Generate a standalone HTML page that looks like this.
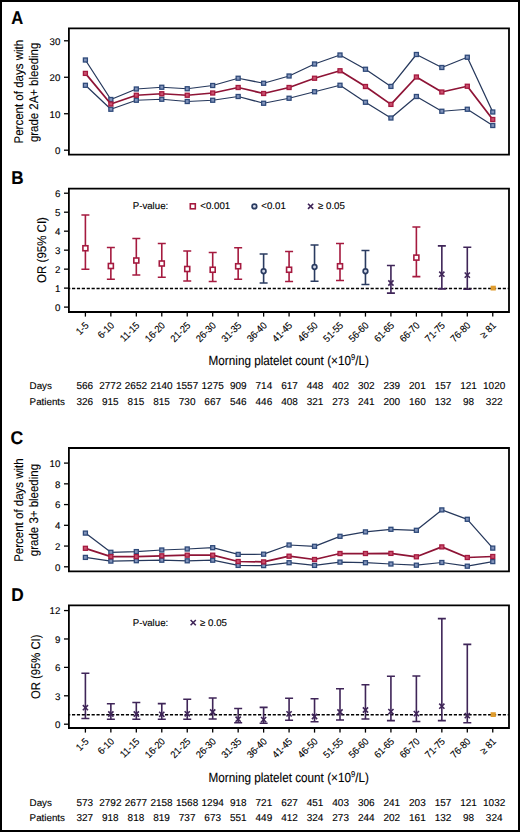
<!DOCTYPE html><html><head><meta charset="utf-8"><style>html,body{margin:0;padding:0;background:#fff;}body{width:520px;height:832px;overflow:hidden;}svg{display:block;}text{font-family:"Liberation Sans", sans-serif;fill:#000;stroke:#000;stroke-width:0.12px;text-rendering:geometricPrecision;}</style></head><body>
<svg width="520" height="832" viewBox="0 0 520 832">
<rect x="1" y="1" width="518" height="830" fill="#fff" stroke="#000" stroke-width="2"/>
<text transform="translate(11.2,23.9) scale(0.9,1)" font-size="18.4" font-weight="bold">A</text>
<text transform="translate(22.8,91.7) rotate(-90)" text-anchor="middle" font-size="12.6" textLength="103.6" lengthAdjust="spacingAndGlyphs">Percent of days with</text>
<text transform="translate(38.1,92.4) rotate(-90)" text-anchor="middle" font-size="12.6" textLength="99.4" lengthAdjust="spacingAndGlyphs">grade 2A+ bleeding</text>
<line x1="64" y1="150.2" x2="68.9" y2="150.2" stroke="#000" stroke-width="1.3"/>
<text x="60.4" y="154" text-anchor="end" font-size="9.7">0</text>
<line x1="64" y1="113.73" x2="68.9" y2="113.73" stroke="#000" stroke-width="1.3"/>
<text x="60.4" y="117.53" text-anchor="end" font-size="9.7">10</text>
<line x1="64" y1="77.26" x2="68.9" y2="77.26" stroke="#000" stroke-width="1.3"/>
<text x="60.4" y="81.06" text-anchor="end" font-size="9.7">20</text>
<line x1="64" y1="40.79" x2="68.9" y2="40.79" stroke="#000" stroke-width="1.3"/>
<text x="60.4" y="44.59" text-anchor="end" font-size="9.7">30</text>
<polyline points="85.4,60 110.86,99.5 136.32,89 161.78,87.25 187.24,88.75 212.7,85.5 238.16,78.25 263.62,83.25 289.08,76 314.54,64 340,55 365.46,69.25 390.92,86.4 416.38,54.5 441.84,67.5 467.3,57.25 492.76,112" fill="none" stroke="#26385c" stroke-width="1.25" stroke-linejoin="round"/>
<rect x="83.4" y="58" width="4" height="4" fill="#8294bb" stroke="#2f4a7a" stroke-width="1.3"/>
<rect x="108.86" y="97.5" width="4" height="4" fill="#8294bb" stroke="#2f4a7a" stroke-width="1.3"/>
<rect x="134.32" y="87" width="4" height="4" fill="#8294bb" stroke="#2f4a7a" stroke-width="1.3"/>
<rect x="159.78" y="85.25" width="4" height="4" fill="#8294bb" stroke="#2f4a7a" stroke-width="1.3"/>
<rect x="185.24" y="86.75" width="4" height="4" fill="#8294bb" stroke="#2f4a7a" stroke-width="1.3"/>
<rect x="210.7" y="83.5" width="4" height="4" fill="#8294bb" stroke="#2f4a7a" stroke-width="1.3"/>
<rect x="236.16" y="76.25" width="4" height="4" fill="#8294bb" stroke="#2f4a7a" stroke-width="1.3"/>
<rect x="261.62" y="81.25" width="4" height="4" fill="#8294bb" stroke="#2f4a7a" stroke-width="1.3"/>
<rect x="287.08" y="74" width="4" height="4" fill="#8294bb" stroke="#2f4a7a" stroke-width="1.3"/>
<rect x="312.54" y="62" width="4" height="4" fill="#8294bb" stroke="#2f4a7a" stroke-width="1.3"/>
<rect x="338" y="53" width="4" height="4" fill="#8294bb" stroke="#2f4a7a" stroke-width="1.3"/>
<rect x="363.46" y="67.25" width="4" height="4" fill="#8294bb" stroke="#2f4a7a" stroke-width="1.3"/>
<rect x="388.92" y="84.4" width="4" height="4" fill="#8294bb" stroke="#2f4a7a" stroke-width="1.3"/>
<rect x="414.38" y="52.5" width="4" height="4" fill="#8294bb" stroke="#2f4a7a" stroke-width="1.3"/>
<rect x="439.84" y="65.5" width="4" height="4" fill="#8294bb" stroke="#2f4a7a" stroke-width="1.3"/>
<rect x="465.3" y="55.25" width="4" height="4" fill="#8294bb" stroke="#2f4a7a" stroke-width="1.3"/>
<rect x="490.76" y="110" width="4" height="4" fill="#8294bb" stroke="#2f4a7a" stroke-width="1.3"/>
<polyline points="85.4,85.3 110.86,109.25 136.32,100.25 161.78,99.25 187.24,101.5 212.7,100.25 238.16,96.5 263.62,103.25 289.08,98.25 314.54,91.75 340,85.25 365.46,102.25 390.92,118 416.38,96.5 441.84,111.25 467.3,109.25 492.76,125.5" fill="none" stroke="#26385c" stroke-width="1.25" stroke-linejoin="round"/>
<rect x="83.4" y="83.3" width="4" height="4" fill="#8294bb" stroke="#2f4a7a" stroke-width="1.3"/>
<rect x="108.86" y="107.25" width="4" height="4" fill="#8294bb" stroke="#2f4a7a" stroke-width="1.3"/>
<rect x="134.32" y="98.25" width="4" height="4" fill="#8294bb" stroke="#2f4a7a" stroke-width="1.3"/>
<rect x="159.78" y="97.25" width="4" height="4" fill="#8294bb" stroke="#2f4a7a" stroke-width="1.3"/>
<rect x="185.24" y="99.5" width="4" height="4" fill="#8294bb" stroke="#2f4a7a" stroke-width="1.3"/>
<rect x="210.7" y="98.25" width="4" height="4" fill="#8294bb" stroke="#2f4a7a" stroke-width="1.3"/>
<rect x="236.16" y="94.5" width="4" height="4" fill="#8294bb" stroke="#2f4a7a" stroke-width="1.3"/>
<rect x="261.62" y="101.25" width="4" height="4" fill="#8294bb" stroke="#2f4a7a" stroke-width="1.3"/>
<rect x="287.08" y="96.25" width="4" height="4" fill="#8294bb" stroke="#2f4a7a" stroke-width="1.3"/>
<rect x="312.54" y="89.75" width="4" height="4" fill="#8294bb" stroke="#2f4a7a" stroke-width="1.3"/>
<rect x="338" y="83.25" width="4" height="4" fill="#8294bb" stroke="#2f4a7a" stroke-width="1.3"/>
<rect x="363.46" y="100.25" width="4" height="4" fill="#8294bb" stroke="#2f4a7a" stroke-width="1.3"/>
<rect x="388.92" y="116" width="4" height="4" fill="#8294bb" stroke="#2f4a7a" stroke-width="1.3"/>
<rect x="414.38" y="94.5" width="4" height="4" fill="#8294bb" stroke="#2f4a7a" stroke-width="1.3"/>
<rect x="439.84" y="109.25" width="4" height="4" fill="#8294bb" stroke="#2f4a7a" stroke-width="1.3"/>
<rect x="465.3" y="107.25" width="4" height="4" fill="#8294bb" stroke="#2f4a7a" stroke-width="1.3"/>
<rect x="490.76" y="123.5" width="4" height="4" fill="#8294bb" stroke="#2f4a7a" stroke-width="1.3"/>
<polyline points="85.4,73.4 110.86,104 136.32,95.25 161.78,93.75 187.24,95.25 212.7,93 238.16,87.5 263.62,93.5 289.08,87.5 314.54,78.25 340,70.75 365.46,86.5 390.92,104.4 416.38,77 441.84,92 467.3,86.25 492.76,119.5" fill="none" stroke="#8e1436" stroke-width="1.75" stroke-linejoin="round"/>
<rect x="83.4" y="71.4" width="4" height="4" fill="#c9506e" stroke="#a51a3f" stroke-width="1.3"/>
<rect x="108.86" y="102" width="4" height="4" fill="#c9506e" stroke="#a51a3f" stroke-width="1.3"/>
<rect x="134.32" y="93.25" width="4" height="4" fill="#c9506e" stroke="#a51a3f" stroke-width="1.3"/>
<rect x="159.78" y="91.75" width="4" height="4" fill="#c9506e" stroke="#a51a3f" stroke-width="1.3"/>
<rect x="185.24" y="93.25" width="4" height="4" fill="#c9506e" stroke="#a51a3f" stroke-width="1.3"/>
<rect x="210.7" y="91" width="4" height="4" fill="#c9506e" stroke="#a51a3f" stroke-width="1.3"/>
<rect x="236.16" y="85.5" width="4" height="4" fill="#c9506e" stroke="#a51a3f" stroke-width="1.3"/>
<rect x="261.62" y="91.5" width="4" height="4" fill="#c9506e" stroke="#a51a3f" stroke-width="1.3"/>
<rect x="287.08" y="85.5" width="4" height="4" fill="#c9506e" stroke="#a51a3f" stroke-width="1.3"/>
<rect x="312.54" y="76.25" width="4" height="4" fill="#c9506e" stroke="#a51a3f" stroke-width="1.3"/>
<rect x="338" y="68.75" width="4" height="4" fill="#c9506e" stroke="#a51a3f" stroke-width="1.3"/>
<rect x="363.46" y="84.5" width="4" height="4" fill="#c9506e" stroke="#a51a3f" stroke-width="1.3"/>
<rect x="388.92" y="102.4" width="4" height="4" fill="#c9506e" stroke="#a51a3f" stroke-width="1.3"/>
<rect x="414.38" y="75" width="4" height="4" fill="#c9506e" stroke="#a51a3f" stroke-width="1.3"/>
<rect x="439.84" y="90" width="4" height="4" fill="#c9506e" stroke="#a51a3f" stroke-width="1.3"/>
<rect x="465.3" y="84.25" width="4" height="4" fill="#c9506e" stroke="#a51a3f" stroke-width="1.3"/>
<rect x="490.76" y="117.5" width="4" height="4" fill="#c9506e" stroke="#a51a3f" stroke-width="1.3"/>
<path d="M68.9 28.3H509V154.7H68.9Z" fill="none" stroke="#000" stroke-width="1.8" stroke-linejoin="miter"/>
<text transform="translate(11.3,184.1) scale(0.93,1)" font-size="18.4" font-weight="bold">B</text>
<text transform="translate(45.9,250) rotate(-90)" text-anchor="middle" font-size="12.6" textLength="65.8" lengthAdjust="spacingAndGlyphs">OR (95% CI)</text>
<line x1="64" y1="307.1" x2="68.9" y2="307.1" stroke="#000" stroke-width="1.3"/>
<text x="60.4" y="310.9" text-anchor="end" font-size="9.7">0</text>
<line x1="64" y1="288.12" x2="68.9" y2="288.12" stroke="#000" stroke-width="1.3"/>
<text x="60.4" y="291.92" text-anchor="end" font-size="9.7">1</text>
<line x1="64" y1="269.14" x2="68.9" y2="269.14" stroke="#000" stroke-width="1.3"/>
<text x="60.4" y="272.94" text-anchor="end" font-size="9.7">2</text>
<line x1="64" y1="250.16" x2="68.9" y2="250.16" stroke="#000" stroke-width="1.3"/>
<text x="60.4" y="253.96" text-anchor="end" font-size="9.7">3</text>
<line x1="64" y1="231.18" x2="68.9" y2="231.18" stroke="#000" stroke-width="1.3"/>
<text x="60.4" y="234.98" text-anchor="end" font-size="9.7">4</text>
<line x1="64" y1="212.2" x2="68.9" y2="212.2" stroke="#000" stroke-width="1.3"/>
<text x="60.4" y="216" text-anchor="end" font-size="9.7">5</text>
<line x1="64" y1="193.22" x2="68.9" y2="193.22" stroke="#000" stroke-width="1.3"/>
<text x="60.4" y="197.02" text-anchor="end" font-size="9.7">6</text>
<line x1="68.0" y1="288.52" x2="509" y2="288.52" stroke="#000" stroke-width="1.6" stroke-dasharray="3.2 1.695" stroke-dashoffset="0.9"/>
<path d="M85.4 215V269.25M81.4 215H89.4M81.4 269.25H89.4" stroke="#a51a3f" stroke-width="1.6" fill="none"/>
<rect x="82.9" y="245.75" width="5" height="5" fill="#fff" stroke="#a51a3f" stroke-width="1.6"/>
<path d="M110.86 247.5V279.25M106.86 247.5H114.86M106.86 279.25H114.86" stroke="#a51a3f" stroke-width="1.6" fill="none"/>
<rect x="108.36" y="263.5" width="5" height="5" fill="#fff" stroke="#a51a3f" stroke-width="1.6"/>
<path d="M136.32 238.5V275M132.32 238.5H140.32M132.32 275H140.32" stroke="#a51a3f" stroke-width="1.6" fill="none"/>
<rect x="133.82" y="258" width="5" height="5" fill="#fff" stroke="#a51a3f" stroke-width="1.6"/>
<path d="M161.78 243.5V277.25M157.78 243.5H165.78M157.78 277.25H165.78" stroke="#a51a3f" stroke-width="1.6" fill="none"/>
<rect x="159.28" y="261" width="5" height="5" fill="#fff" stroke="#a51a3f" stroke-width="1.6"/>
<path d="M187.24 251V281M183.24 251H191.24M183.24 281H191.24" stroke="#a51a3f" stroke-width="1.6" fill="none"/>
<rect x="184.74" y="266.5" width="5" height="5" fill="#fff" stroke="#a51a3f" stroke-width="1.6"/>
<path d="M212.7 252.5V281.5M208.7 252.5H216.7M208.7 281.5H216.7" stroke="#a51a3f" stroke-width="1.6" fill="none"/>
<rect x="210.2" y="267.25" width="5" height="5" fill="#fff" stroke="#a51a3f" stroke-width="1.6"/>
<path d="M238.16 247.75V279.25M234.16 247.75H242.16M234.16 279.25H242.16" stroke="#a51a3f" stroke-width="1.6" fill="none"/>
<rect x="235.66" y="263.75" width="5" height="5" fill="#fff" stroke="#a51a3f" stroke-width="1.6"/>
<path d="M263.62 254V283M259.62 254H267.62M259.62 283H267.62" stroke="#2a3b60" stroke-width="1.6" fill="none"/>
<circle cx="263.62" cy="271.25" r="2.3" fill="#d4daea" stroke="#2a3b60" stroke-width="1.7"/>
<path d="M289.08 251.5V281.5M285.08 251.5H293.08M285.08 281.5H293.08" stroke="#a51a3f" stroke-width="1.6" fill="none"/>
<rect x="286.58" y="267.25" width="5" height="5" fill="#fff" stroke="#a51a3f" stroke-width="1.6"/>
<path d="M314.54 245V281.25M310.54 245H318.54M310.54 281.25H318.54" stroke="#2a3b60" stroke-width="1.6" fill="none"/>
<circle cx="314.54" cy="267" r="2.3" fill="#d4daea" stroke="#2a3b60" stroke-width="1.7"/>
<path d="M340 243.5V280.5M336 243.5H344M336 280.5H344" stroke="#a51a3f" stroke-width="1.6" fill="none"/>
<rect x="337.5" y="263.75" width="5" height="5" fill="#fff" stroke="#a51a3f" stroke-width="1.6"/>
<path d="M365.46 250.5V284.5M361.46 250.5H369.46M361.46 284.5H369.46" stroke="#2a3b60" stroke-width="1.6" fill="none"/>
<circle cx="365.46" cy="271.25" r="2.3" fill="#d4daea" stroke="#2a3b60" stroke-width="1.7"/>
<path d="M390.92 265.5V293.1M386.92 265.5H394.92M386.92 293.1H394.92" stroke="#3f2558" stroke-width="1.6" fill="none"/>
<path d="M388.32 280.4L393.52 285.6M388.32 285.6L393.52 280.4" stroke="#3f2558" stroke-width="1.6" fill="none"/>
<path d="M416.38 227V276.6M412.38 227H420.38M412.38 276.6H420.38" stroke="#a51a3f" stroke-width="1.6" fill="none"/>
<rect x="413.88" y="255.1" width="5" height="5" fill="#fff" stroke="#a51a3f" stroke-width="1.6"/>
<path d="M441.84 245.9V288.9M437.84 245.9H445.84M437.84 288.9H445.84" stroke="#3f2558" stroke-width="1.6" fill="none"/>
<path d="M439.24 271.6L444.44 276.8M439.24 276.8L444.44 271.6" stroke="#3f2558" stroke-width="1.6" fill="none"/>
<path d="M467.3 247.3V289.2M463.3 247.3H471.3M463.3 289.2H471.3" stroke="#3f2558" stroke-width="1.6" fill="none"/>
<path d="M464.7 272.5L469.9 277.7M464.7 277.7L469.9 272.5" stroke="#3f2558" stroke-width="1.6" fill="none"/>
<rect x="490.61" y="285.7" width="5.2" height="4.8" fill="#df9c2e"/>
<text x="132.7" y="209" font-size="9.7">P-value:</text>
<rect x="190.3" y="203.8" width="5" height="5" fill="#fff" stroke="#a51a3f" stroke-width="1.6"/>
<text x="200.3" y="209" font-size="9.7">&lt;0.001</text>
<circle cx="254.4" cy="206.4" r="2.3" fill="#d4daea" stroke="#2a3b60" stroke-width="1.7"/>
<text x="261.3" y="209" font-size="9.7">&lt;0.01</text>
<path d="M308 203.7L313.2 208.9M308 208.9L313.2 203.7" stroke="#3f2558" stroke-width="1.6" fill="none"/>
<text x="318" y="209" font-size="9.7">≥ 0.05</text>
<path d="M68.9 188.6H509V312H68.9Z" fill="none" stroke="#000" stroke-width="1.8" stroke-linejoin="miter"/>
<line x1="85.4" y1="312" x2="85.4" y2="316.6" stroke="#000" stroke-width="1.3"/>
<line x1="110.86" y1="312" x2="110.86" y2="316.6" stroke="#000" stroke-width="1.3"/>
<line x1="136.32" y1="312" x2="136.32" y2="316.6" stroke="#000" stroke-width="1.3"/>
<line x1="161.78" y1="312" x2="161.78" y2="316.6" stroke="#000" stroke-width="1.3"/>
<line x1="187.24" y1="312" x2="187.24" y2="316.6" stroke="#000" stroke-width="1.3"/>
<line x1="212.7" y1="312" x2="212.7" y2="316.6" stroke="#000" stroke-width="1.3"/>
<line x1="238.16" y1="312" x2="238.16" y2="316.6" stroke="#000" stroke-width="1.3"/>
<line x1="263.62" y1="312" x2="263.62" y2="316.6" stroke="#000" stroke-width="1.3"/>
<line x1="289.08" y1="312" x2="289.08" y2="316.6" stroke="#000" stroke-width="1.3"/>
<line x1="314.54" y1="312" x2="314.54" y2="316.6" stroke="#000" stroke-width="1.3"/>
<line x1="340" y1="312" x2="340" y2="316.6" stroke="#000" stroke-width="1.3"/>
<line x1="365.46" y1="312" x2="365.46" y2="316.6" stroke="#000" stroke-width="1.3"/>
<line x1="390.92" y1="312" x2="390.92" y2="316.6" stroke="#000" stroke-width="1.3"/>
<line x1="416.38" y1="312" x2="416.38" y2="316.6" stroke="#000" stroke-width="1.3"/>
<line x1="441.84" y1="312" x2="441.84" y2="316.6" stroke="#000" stroke-width="1.3"/>
<line x1="467.3" y1="312" x2="467.3" y2="316.6" stroke="#000" stroke-width="1.3"/>
<line x1="492.76" y1="312" x2="492.76" y2="316.6" stroke="#000" stroke-width="1.3"/>
<text transform="translate(89.3,326.1) rotate(-45) scale(0.92,1)" text-anchor="end" font-size="10">1-5</text>
<text transform="translate(114.76,326.1) rotate(-45) scale(0.92,1)" text-anchor="end" font-size="10">6-10</text>
<text transform="translate(140.22,326.1) rotate(-45) scale(0.92,1)" text-anchor="end" font-size="10">11-15</text>
<text transform="translate(165.68,326.1) rotate(-45) scale(0.92,1)" text-anchor="end" font-size="10">16-20</text>
<text transform="translate(191.14,326.1) rotate(-45) scale(0.92,1)" text-anchor="end" font-size="10">21-25</text>
<text transform="translate(216.6,326.1) rotate(-45) scale(0.92,1)" text-anchor="end" font-size="10">26-30</text>
<text transform="translate(242.06,326.1) rotate(-45) scale(0.92,1)" text-anchor="end" font-size="10">31-35</text>
<text transform="translate(267.52,326.1) rotate(-45) scale(0.92,1)" text-anchor="end" font-size="10">36-40</text>
<text transform="translate(292.98,326.1) rotate(-45) scale(0.92,1)" text-anchor="end" font-size="10">41-45</text>
<text transform="translate(318.44,326.1) rotate(-45) scale(0.92,1)" text-anchor="end" font-size="10">46-50</text>
<text transform="translate(343.9,326.1) rotate(-45) scale(0.92,1)" text-anchor="end" font-size="10">51-55</text>
<text transform="translate(369.36,326.1) rotate(-45) scale(0.92,1)" text-anchor="end" font-size="10">56-60</text>
<text transform="translate(394.82,326.1) rotate(-45) scale(0.92,1)" text-anchor="end" font-size="10">61-65</text>
<text transform="translate(420.28,326.1) rotate(-45) scale(0.92,1)" text-anchor="end" font-size="10">66-70</text>
<text transform="translate(445.74,326.1) rotate(-45) scale(0.92,1)" text-anchor="end" font-size="10">71-75</text>
<text transform="translate(471.2,326.1) rotate(-45) scale(0.92,1)" text-anchor="end" font-size="10">76-80</text>
<text transform="translate(496.66,326.1) rotate(-45) scale(0.92,1)" text-anchor="end" font-size="10">≥ 81</text>
<text x="208.6" y="364.85" font-size="13.2" textLength="160.2" lengthAdjust="spacingAndGlyphs">Morning platelet count (×10<tspan font-size="8.5" dy="-4.6">9</tspan><tspan dy="4.6">/L)</tspan></text>
<text x="29.6" y="388.8" font-size="9.8">Days</text>
<text x="29.6" y="404.5" font-size="9.8">Patients</text>
<text x="84.75" y="388.8" text-anchor="middle" font-size="10">566</text>
<text x="84.75" y="404.5" text-anchor="middle" font-size="10">326</text>
<text x="110.34" y="388.8" text-anchor="middle" font-size="10">2772</text>
<text x="110.34" y="404.5" text-anchor="middle" font-size="10">915</text>
<text x="135.93" y="388.8" text-anchor="middle" font-size="10">2652</text>
<text x="135.93" y="404.5" text-anchor="middle" font-size="10">815</text>
<text x="161.52" y="388.8" text-anchor="middle" font-size="10">2140</text>
<text x="161.52" y="404.5" text-anchor="middle" font-size="10">815</text>
<text x="187.11" y="388.8" text-anchor="middle" font-size="10">1557</text>
<text x="187.11" y="404.5" text-anchor="middle" font-size="10">730</text>
<text x="212.7" y="388.8" text-anchor="middle" font-size="10">1275</text>
<text x="212.7" y="404.5" text-anchor="middle" font-size="10">667</text>
<text x="238.29" y="388.8" text-anchor="middle" font-size="10">909</text>
<text x="238.29" y="404.5" text-anchor="middle" font-size="10">546</text>
<text x="263.88" y="388.8" text-anchor="middle" font-size="10">714</text>
<text x="263.88" y="404.5" text-anchor="middle" font-size="10">446</text>
<text x="289.47" y="388.8" text-anchor="middle" font-size="10">617</text>
<text x="289.47" y="404.5" text-anchor="middle" font-size="10">408</text>
<text x="315.06" y="388.8" text-anchor="middle" font-size="10">448</text>
<text x="315.06" y="404.5" text-anchor="middle" font-size="10">321</text>
<text x="340.65" y="388.8" text-anchor="middle" font-size="10">402</text>
<text x="340.65" y="404.5" text-anchor="middle" font-size="10">273</text>
<text x="366.24" y="388.8" text-anchor="middle" font-size="10">302</text>
<text x="366.24" y="404.5" text-anchor="middle" font-size="10">241</text>
<text x="391.83" y="388.8" text-anchor="middle" font-size="10">239</text>
<text x="391.83" y="404.5" text-anchor="middle" font-size="10">200</text>
<text x="417.42" y="388.8" text-anchor="middle" font-size="10">201</text>
<text x="417.42" y="404.5" text-anchor="middle" font-size="10">160</text>
<text x="443.01" y="388.8" text-anchor="middle" font-size="10">157</text>
<text x="443.01" y="404.5" text-anchor="middle" font-size="10">132</text>
<text x="468.6" y="388.8" text-anchor="middle" font-size="10">121</text>
<text x="468.6" y="404.5" text-anchor="middle" font-size="10">98</text>
<text x="494.19" y="388.8" text-anchor="middle" font-size="10">1020</text>
<text x="494.19" y="404.5" text-anchor="middle" font-size="10">322</text>
<text transform="translate(10.6,443.6) scale(0.96,1)" font-size="18.4" font-weight="bold">C</text>
<text transform="translate(22.8,510.05) rotate(-90)" text-anchor="middle" font-size="12.6" textLength="103.5" lengthAdjust="spacingAndGlyphs">Percent of days with</text>
<text transform="translate(38.1,510.05) rotate(-90)" text-anchor="middle" font-size="12.6" textLength="92.2" lengthAdjust="spacingAndGlyphs">grade 3+ bleeding</text>
<line x1="64" y1="566.8" x2="68.9" y2="566.8" stroke="#000" stroke-width="1.3"/>
<text x="60.4" y="570.6" text-anchor="end" font-size="9.7">0</text>
<line x1="64" y1="546.06" x2="68.9" y2="546.06" stroke="#000" stroke-width="1.3"/>
<text x="60.4" y="549.86" text-anchor="end" font-size="9.7">2</text>
<line x1="64" y1="525.32" x2="68.9" y2="525.32" stroke="#000" stroke-width="1.3"/>
<text x="60.4" y="529.12" text-anchor="end" font-size="9.7">4</text>
<line x1="64" y1="504.58" x2="68.9" y2="504.58" stroke="#000" stroke-width="1.3"/>
<text x="60.4" y="508.38" text-anchor="end" font-size="9.7">6</text>
<line x1="64" y1="483.84" x2="68.9" y2="483.84" stroke="#000" stroke-width="1.3"/>
<text x="60.4" y="487.64" text-anchor="end" font-size="9.7">8</text>
<line x1="64" y1="463.1" x2="68.9" y2="463.1" stroke="#000" stroke-width="1.3"/>
<text x="60.4" y="466.9" text-anchor="end" font-size="9.7">10</text>
<polyline points="85.4,533.1 110.86,552.3 136.32,551.6 161.78,550 187.24,549 212.7,547.7 238.16,554.4 263.62,554.2 289.08,545 314.54,546.3 340,536.3 365.46,531.9 390.92,529.3 416.38,530.3 441.84,509.9 467.3,519.3 492.76,548.1" fill="none" stroke="#26385c" stroke-width="1.25" stroke-linejoin="round"/>
<rect x="83.4" y="531.1" width="4" height="4" fill="#8294bb" stroke="#2f4a7a" stroke-width="1.3"/>
<rect x="108.86" y="550.3" width="4" height="4" fill="#8294bb" stroke="#2f4a7a" stroke-width="1.3"/>
<rect x="134.32" y="549.6" width="4" height="4" fill="#8294bb" stroke="#2f4a7a" stroke-width="1.3"/>
<rect x="159.78" y="548" width="4" height="4" fill="#8294bb" stroke="#2f4a7a" stroke-width="1.3"/>
<rect x="185.24" y="547" width="4" height="4" fill="#8294bb" stroke="#2f4a7a" stroke-width="1.3"/>
<rect x="210.7" y="545.7" width="4" height="4" fill="#8294bb" stroke="#2f4a7a" stroke-width="1.3"/>
<rect x="236.16" y="552.4" width="4" height="4" fill="#8294bb" stroke="#2f4a7a" stroke-width="1.3"/>
<rect x="261.62" y="552.2" width="4" height="4" fill="#8294bb" stroke="#2f4a7a" stroke-width="1.3"/>
<rect x="287.08" y="543" width="4" height="4" fill="#8294bb" stroke="#2f4a7a" stroke-width="1.3"/>
<rect x="312.54" y="544.3" width="4" height="4" fill="#8294bb" stroke="#2f4a7a" stroke-width="1.3"/>
<rect x="338" y="534.3" width="4" height="4" fill="#8294bb" stroke="#2f4a7a" stroke-width="1.3"/>
<rect x="363.46" y="529.9" width="4" height="4" fill="#8294bb" stroke="#2f4a7a" stroke-width="1.3"/>
<rect x="388.92" y="527.3" width="4" height="4" fill="#8294bb" stroke="#2f4a7a" stroke-width="1.3"/>
<rect x="414.38" y="528.3" width="4" height="4" fill="#8294bb" stroke="#2f4a7a" stroke-width="1.3"/>
<rect x="439.84" y="507.9" width="4" height="4" fill="#8294bb" stroke="#2f4a7a" stroke-width="1.3"/>
<rect x="465.3" y="517.3" width="4" height="4" fill="#8294bb" stroke="#2f4a7a" stroke-width="1.3"/>
<rect x="490.76" y="546.1" width="4" height="4" fill="#8294bb" stroke="#2f4a7a" stroke-width="1.3"/>
<polyline points="85.4,557.4 110.86,561.1 136.32,560.7 161.78,560.2 187.24,560.8 212.7,560.2 238.16,565.4 263.62,565.6 289.08,562.7 314.54,565.4 340,562.1 365.46,562.7 390.92,564 416.38,565.2 441.84,562.5 467.3,566.2 492.76,561.6" fill="none" stroke="#26385c" stroke-width="1.25" stroke-linejoin="round"/>
<rect x="83.4" y="555.4" width="4" height="4" fill="#8294bb" stroke="#2f4a7a" stroke-width="1.3"/>
<rect x="108.86" y="559.1" width="4" height="4" fill="#8294bb" stroke="#2f4a7a" stroke-width="1.3"/>
<rect x="134.32" y="558.7" width="4" height="4" fill="#8294bb" stroke="#2f4a7a" stroke-width="1.3"/>
<rect x="159.78" y="558.2" width="4" height="4" fill="#8294bb" stroke="#2f4a7a" stroke-width="1.3"/>
<rect x="185.24" y="558.8" width="4" height="4" fill="#8294bb" stroke="#2f4a7a" stroke-width="1.3"/>
<rect x="210.7" y="558.2" width="4" height="4" fill="#8294bb" stroke="#2f4a7a" stroke-width="1.3"/>
<rect x="236.16" y="563.4" width="4" height="4" fill="#8294bb" stroke="#2f4a7a" stroke-width="1.3"/>
<rect x="261.62" y="563.6" width="4" height="4" fill="#8294bb" stroke="#2f4a7a" stroke-width="1.3"/>
<rect x="287.08" y="560.7" width="4" height="4" fill="#8294bb" stroke="#2f4a7a" stroke-width="1.3"/>
<rect x="312.54" y="563.4" width="4" height="4" fill="#8294bb" stroke="#2f4a7a" stroke-width="1.3"/>
<rect x="338" y="560.1" width="4" height="4" fill="#8294bb" stroke="#2f4a7a" stroke-width="1.3"/>
<rect x="363.46" y="560.7" width="4" height="4" fill="#8294bb" stroke="#2f4a7a" stroke-width="1.3"/>
<rect x="388.92" y="562" width="4" height="4" fill="#8294bb" stroke="#2f4a7a" stroke-width="1.3"/>
<rect x="414.38" y="563.2" width="4" height="4" fill="#8294bb" stroke="#2f4a7a" stroke-width="1.3"/>
<rect x="439.84" y="560.5" width="4" height="4" fill="#8294bb" stroke="#2f4a7a" stroke-width="1.3"/>
<rect x="465.3" y="564.2" width="4" height="4" fill="#8294bb" stroke="#2f4a7a" stroke-width="1.3"/>
<rect x="490.76" y="559.6" width="4" height="4" fill="#8294bb" stroke="#2f4a7a" stroke-width="1.3"/>
<polyline points="85.4,548.3 110.86,556.6 136.32,556.6 161.78,555.8 187.24,555.2 212.7,555.2 238.16,561.5 263.62,561.9 289.08,556.2 314.54,559.5 340,553.5 365.46,553.5 390.92,553.4 416.38,556.8 441.84,546.9 467.3,557.5 492.76,556.5" fill="none" stroke="#8e1436" stroke-width="1.75" stroke-linejoin="round"/>
<rect x="83.4" y="546.3" width="4" height="4" fill="#c9506e" stroke="#a51a3f" stroke-width="1.3"/>
<rect x="108.86" y="554.6" width="4" height="4" fill="#c9506e" stroke="#a51a3f" stroke-width="1.3"/>
<rect x="134.32" y="554.6" width="4" height="4" fill="#c9506e" stroke="#a51a3f" stroke-width="1.3"/>
<rect x="159.78" y="553.8" width="4" height="4" fill="#c9506e" stroke="#a51a3f" stroke-width="1.3"/>
<rect x="185.24" y="553.2" width="4" height="4" fill="#c9506e" stroke="#a51a3f" stroke-width="1.3"/>
<rect x="210.7" y="553.2" width="4" height="4" fill="#c9506e" stroke="#a51a3f" stroke-width="1.3"/>
<rect x="236.16" y="559.5" width="4" height="4" fill="#c9506e" stroke="#a51a3f" stroke-width="1.3"/>
<rect x="261.62" y="559.9" width="4" height="4" fill="#c9506e" stroke="#a51a3f" stroke-width="1.3"/>
<rect x="287.08" y="554.2" width="4" height="4" fill="#c9506e" stroke="#a51a3f" stroke-width="1.3"/>
<rect x="312.54" y="557.5" width="4" height="4" fill="#c9506e" stroke="#a51a3f" stroke-width="1.3"/>
<rect x="338" y="551.5" width="4" height="4" fill="#c9506e" stroke="#a51a3f" stroke-width="1.3"/>
<rect x="363.46" y="551.5" width="4" height="4" fill="#c9506e" stroke="#a51a3f" stroke-width="1.3"/>
<rect x="388.92" y="551.4" width="4" height="4" fill="#c9506e" stroke="#a51a3f" stroke-width="1.3"/>
<rect x="414.38" y="554.8" width="4" height="4" fill="#c9506e" stroke="#a51a3f" stroke-width="1.3"/>
<rect x="439.84" y="544.9" width="4" height="4" fill="#c9506e" stroke="#a51a3f" stroke-width="1.3"/>
<rect x="465.3" y="555.5" width="4" height="4" fill="#c9506e" stroke="#a51a3f" stroke-width="1.3"/>
<rect x="490.76" y="554.5" width="4" height="4" fill="#c9506e" stroke="#a51a3f" stroke-width="1.3"/>
<path d="M68.9 448H509V571.3H68.9Z" fill="none" stroke="#000" stroke-width="1.8" stroke-linejoin="miter"/>
<text transform="translate(11.3,600.7) scale(0.94,1)" font-size="18.4" font-weight="bold">D</text>
<text transform="translate(39.7,666.8) rotate(-90)" text-anchor="middle" font-size="12.6" textLength="64.6" lengthAdjust="spacingAndGlyphs">OR (95% CI)</text>
<line x1="64" y1="724.2" x2="68.9" y2="724.2" stroke="#000" stroke-width="1.3"/>
<text x="60.4" y="728" text-anchor="end" font-size="9.7">0</text>
<line x1="64" y1="695.79" x2="68.9" y2="695.79" stroke="#000" stroke-width="1.3"/>
<text x="60.4" y="699.59" text-anchor="end" font-size="9.7">3</text>
<line x1="64" y1="667.38" x2="68.9" y2="667.38" stroke="#000" stroke-width="1.3"/>
<text x="60.4" y="671.18" text-anchor="end" font-size="9.7">6</text>
<line x1="64" y1="638.97" x2="68.9" y2="638.97" stroke="#000" stroke-width="1.3"/>
<text x="60.4" y="642.77" text-anchor="end" font-size="9.7">9</text>
<line x1="64" y1="610.56" x2="68.9" y2="610.56" stroke="#000" stroke-width="1.3"/>
<text x="60.4" y="614.36" text-anchor="end" font-size="9.7">12</text>
<line x1="68.0" y1="714.73" x2="509" y2="714.73" stroke="#000" stroke-width="1.6" stroke-dasharray="3.2 1.695" stroke-dashoffset="0.9"/>
<path d="M85.4 673.25V718.5M81.4 673.25H89.4M81.4 718.5H89.4" stroke="#3f2558" stroke-width="1.6" fill="none"/>
<path d="M82.8 705.1L88 710.3M82.8 710.3L88 705.1" stroke="#3f2558" stroke-width="1.6" fill="none"/>
<path d="M110.86 703.7V719.3M106.86 703.7H114.86M106.86 719.3H114.86" stroke="#3f2558" stroke-width="1.6" fill="none"/>
<path d="M108.26 711.4L113.46 716.6M108.26 716.6L113.46 711.4" stroke="#3f2558" stroke-width="1.6" fill="none"/>
<path d="M136.32 702.5V719.3M132.32 702.5H140.32M132.32 719.3H140.32" stroke="#3f2558" stroke-width="1.6" fill="none"/>
<path d="M133.72 711.4L138.92 716.6M133.72 716.6L138.92 711.4" stroke="#3f2558" stroke-width="1.6" fill="none"/>
<path d="M161.78 703.6V719.3M157.78 703.6H165.78M157.78 719.3H165.78" stroke="#3f2558" stroke-width="1.6" fill="none"/>
<path d="M159.18 711.7L164.38 716.9M159.18 716.9L164.38 711.7" stroke="#3f2558" stroke-width="1.6" fill="none"/>
<path d="M187.24 699.3V719.2M183.24 699.3H191.24M183.24 719.2H191.24" stroke="#3f2558" stroke-width="1.6" fill="none"/>
<path d="M184.64 711.2L189.84 716.4M184.64 716.4L189.84 711.2" stroke="#3f2558" stroke-width="1.6" fill="none"/>
<path d="M212.7 698V719M208.7 698H216.7M208.7 719H216.7" stroke="#3f2558" stroke-width="1.6" fill="none"/>
<path d="M210.1 709.4L215.3 714.6M210.1 714.6L215.3 709.4" stroke="#3f2558" stroke-width="1.6" fill="none"/>
<path d="M238.16 708.5V722.7M234.16 708.5H242.16M234.16 722.7H242.16" stroke="#3f2558" stroke-width="1.6" fill="none"/>
<path d="M235.56 716.6L240.76 721.8M235.56 721.8L240.76 716.6" stroke="#3f2558" stroke-width="1.6" fill="none"/>
<path d="M263.62 707.4V723.2M259.62 707.4H267.62M259.62 723.2H267.62" stroke="#3f2558" stroke-width="1.6" fill="none"/>
<path d="M261.02 717L266.22 722.2M261.02 722.2L266.22 717" stroke="#3f2558" stroke-width="1.6" fill="none"/>
<path d="M289.08 698.2V720.2M285.08 698.2H293.08M285.08 720.2H293.08" stroke="#3f2558" stroke-width="1.6" fill="none"/>
<path d="M286.48 711.3L291.68 716.5M286.48 716.5L291.68 711.3" stroke="#3f2558" stroke-width="1.6" fill="none"/>
<path d="M314.54 698.7V721.8M310.54 698.7H318.54M310.54 721.8H318.54" stroke="#3f2558" stroke-width="1.6" fill="none"/>
<path d="M311.94 713.9L317.14 719.1M311.94 719.1L317.14 713.9" stroke="#3f2558" stroke-width="1.6" fill="none"/>
<path d="M340 688.75V720M336 688.75H344M336 720H344" stroke="#3f2558" stroke-width="1.6" fill="none"/>
<path d="M337.4 709.4L342.6 714.6M337.4 714.6L342.6 709.4" stroke="#3f2558" stroke-width="1.6" fill="none"/>
<path d="M365.46 684.8V719M361.46 684.8H369.46M361.46 719H369.46" stroke="#3f2558" stroke-width="1.6" fill="none"/>
<path d="M362.86 707.4L368.06 712.6M362.86 712.6L368.06 707.4" stroke="#3f2558" stroke-width="1.6" fill="none"/>
<path d="M390.92 676.25V720.6M386.92 676.25H394.92M386.92 720.6H394.92" stroke="#3f2558" stroke-width="1.6" fill="none"/>
<path d="M388.32 709L393.52 714.2M388.32 714.2L393.52 709" stroke="#3f2558" stroke-width="1.6" fill="none"/>
<path d="M416.38 676V721.5M412.38 676H420.38M412.38 721.5H420.38" stroke="#3f2558" stroke-width="1.6" fill="none"/>
<path d="M413.78 711L418.98 716.2M413.78 716.2L418.98 711" stroke="#3f2558" stroke-width="1.6" fill="none"/>
<path d="M441.84 618.6V720.6M437.84 618.6H445.84M437.84 720.6H445.84" stroke="#3f2558" stroke-width="1.6" fill="none"/>
<path d="M439.24 703.6L444.44 708.8M439.24 708.8L444.44 703.6" stroke="#3f2558" stroke-width="1.6" fill="none"/>
<path d="M467.3 644.4V722.7M463.3 644.4H471.3M463.3 722.7H471.3" stroke="#3f2558" stroke-width="1.6" fill="none"/>
<path d="M464.7 713.1L469.9 718.3M464.7 718.3L469.9 713.1" stroke="#3f2558" stroke-width="1.6" fill="none"/>
<rect x="490.61" y="712.2" width="5.2" height="4.8" fill="#df9c2e"/>
<text x="132.7" y="626" font-size="9.7">P-value:</text>
<path d="M190.6 620L195.8 625.2M190.6 625.2L195.8 620" stroke="#3f2558" stroke-width="1.6" fill="none"/>
<text x="200.1" y="626" font-size="9.7">≥ 0.05</text>
<path d="M68.9 605.4H509V728H68.9Z" fill="none" stroke="#000" stroke-width="1.8" stroke-linejoin="miter"/>
<line x1="85.4" y1="728" x2="85.4" y2="732.6" stroke="#000" stroke-width="1.3"/>
<line x1="110.86" y1="728" x2="110.86" y2="732.6" stroke="#000" stroke-width="1.3"/>
<line x1="136.32" y1="728" x2="136.32" y2="732.6" stroke="#000" stroke-width="1.3"/>
<line x1="161.78" y1="728" x2="161.78" y2="732.6" stroke="#000" stroke-width="1.3"/>
<line x1="187.24" y1="728" x2="187.24" y2="732.6" stroke="#000" stroke-width="1.3"/>
<line x1="212.7" y1="728" x2="212.7" y2="732.6" stroke="#000" stroke-width="1.3"/>
<line x1="238.16" y1="728" x2="238.16" y2="732.6" stroke="#000" stroke-width="1.3"/>
<line x1="263.62" y1="728" x2="263.62" y2="732.6" stroke="#000" stroke-width="1.3"/>
<line x1="289.08" y1="728" x2="289.08" y2="732.6" stroke="#000" stroke-width="1.3"/>
<line x1="314.54" y1="728" x2="314.54" y2="732.6" stroke="#000" stroke-width="1.3"/>
<line x1="340" y1="728" x2="340" y2="732.6" stroke="#000" stroke-width="1.3"/>
<line x1="365.46" y1="728" x2="365.46" y2="732.6" stroke="#000" stroke-width="1.3"/>
<line x1="390.92" y1="728" x2="390.92" y2="732.6" stroke="#000" stroke-width="1.3"/>
<line x1="416.38" y1="728" x2="416.38" y2="732.6" stroke="#000" stroke-width="1.3"/>
<line x1="441.84" y1="728" x2="441.84" y2="732.6" stroke="#000" stroke-width="1.3"/>
<line x1="467.3" y1="728" x2="467.3" y2="732.6" stroke="#000" stroke-width="1.3"/>
<line x1="492.76" y1="728" x2="492.76" y2="732.6" stroke="#000" stroke-width="1.3"/>
<text transform="translate(89.3,742.1) rotate(-45) scale(0.92,1)" text-anchor="end" font-size="10">1-5</text>
<text transform="translate(114.76,742.1) rotate(-45) scale(0.92,1)" text-anchor="end" font-size="10">6-10</text>
<text transform="translate(140.22,742.1) rotate(-45) scale(0.92,1)" text-anchor="end" font-size="10">11-15</text>
<text transform="translate(165.68,742.1) rotate(-45) scale(0.92,1)" text-anchor="end" font-size="10">16-20</text>
<text transform="translate(191.14,742.1) rotate(-45) scale(0.92,1)" text-anchor="end" font-size="10">21-25</text>
<text transform="translate(216.6,742.1) rotate(-45) scale(0.92,1)" text-anchor="end" font-size="10">26-30</text>
<text transform="translate(242.06,742.1) rotate(-45) scale(0.92,1)" text-anchor="end" font-size="10">31-35</text>
<text transform="translate(267.52,742.1) rotate(-45) scale(0.92,1)" text-anchor="end" font-size="10">36-40</text>
<text transform="translate(292.98,742.1) rotate(-45) scale(0.92,1)" text-anchor="end" font-size="10">41-45</text>
<text transform="translate(318.44,742.1) rotate(-45) scale(0.92,1)" text-anchor="end" font-size="10">46-50</text>
<text transform="translate(343.9,742.1) rotate(-45) scale(0.92,1)" text-anchor="end" font-size="10">51-55</text>
<text transform="translate(369.36,742.1) rotate(-45) scale(0.92,1)" text-anchor="end" font-size="10">56-60</text>
<text transform="translate(394.82,742.1) rotate(-45) scale(0.92,1)" text-anchor="end" font-size="10">61-65</text>
<text transform="translate(420.28,742.1) rotate(-45) scale(0.92,1)" text-anchor="end" font-size="10">66-70</text>
<text transform="translate(445.74,742.1) rotate(-45) scale(0.92,1)" text-anchor="end" font-size="10">71-75</text>
<text transform="translate(471.2,742.1) rotate(-45) scale(0.92,1)" text-anchor="end" font-size="10">76-80</text>
<text transform="translate(496.66,742.1) rotate(-45) scale(0.92,1)" text-anchor="end" font-size="10">≥ 81</text>
<text x="208.6" y="781.7" font-size="13.2" textLength="160.2" lengthAdjust="spacingAndGlyphs">Morning platelet count (×10<tspan font-size="8.5" dy="-4.6">9</tspan><tspan dy="4.6">/L)</tspan></text>
<text x="29.6" y="805.5" font-size="9.8">Days</text>
<text x="29.6" y="821.1" font-size="9.8">Patients</text>
<text x="84.75" y="805.5" text-anchor="middle" font-size="10">573</text>
<text x="84.75" y="821.1" text-anchor="middle" font-size="10">327</text>
<text x="110.34" y="805.5" text-anchor="middle" font-size="10">2792</text>
<text x="110.34" y="821.1" text-anchor="middle" font-size="10">918</text>
<text x="135.93" y="805.5" text-anchor="middle" font-size="10">2677</text>
<text x="135.93" y="821.1" text-anchor="middle" font-size="10">818</text>
<text x="161.52" y="805.5" text-anchor="middle" font-size="10">2158</text>
<text x="161.52" y="821.1" text-anchor="middle" font-size="10">819</text>
<text x="187.11" y="805.5" text-anchor="middle" font-size="10">1568</text>
<text x="187.11" y="821.1" text-anchor="middle" font-size="10">737</text>
<text x="212.7" y="805.5" text-anchor="middle" font-size="10">1294</text>
<text x="212.7" y="821.1" text-anchor="middle" font-size="10">673</text>
<text x="238.29" y="805.5" text-anchor="middle" font-size="10">918</text>
<text x="238.29" y="821.1" text-anchor="middle" font-size="10">551</text>
<text x="263.88" y="805.5" text-anchor="middle" font-size="10">721</text>
<text x="263.88" y="821.1" text-anchor="middle" font-size="10">449</text>
<text x="289.47" y="805.5" text-anchor="middle" font-size="10">627</text>
<text x="289.47" y="821.1" text-anchor="middle" font-size="10">412</text>
<text x="315.06" y="805.5" text-anchor="middle" font-size="10">451</text>
<text x="315.06" y="821.1" text-anchor="middle" font-size="10">324</text>
<text x="340.65" y="805.5" text-anchor="middle" font-size="10">403</text>
<text x="340.65" y="821.1" text-anchor="middle" font-size="10">273</text>
<text x="366.24" y="805.5" text-anchor="middle" font-size="10">306</text>
<text x="366.24" y="821.1" text-anchor="middle" font-size="10">244</text>
<text x="391.83" y="805.5" text-anchor="middle" font-size="10">241</text>
<text x="391.83" y="821.1" text-anchor="middle" font-size="10">202</text>
<text x="417.42" y="805.5" text-anchor="middle" font-size="10">203</text>
<text x="417.42" y="821.1" text-anchor="middle" font-size="10">161</text>
<text x="443.01" y="805.5" text-anchor="middle" font-size="10">157</text>
<text x="443.01" y="821.1" text-anchor="middle" font-size="10">132</text>
<text x="468.6" y="805.5" text-anchor="middle" font-size="10">121</text>
<text x="468.6" y="821.1" text-anchor="middle" font-size="10">98</text>
<text x="494.19" y="805.5" text-anchor="middle" font-size="10">1032</text>
<text x="494.19" y="821.1" text-anchor="middle" font-size="10">324</text>
</svg></body></html>
